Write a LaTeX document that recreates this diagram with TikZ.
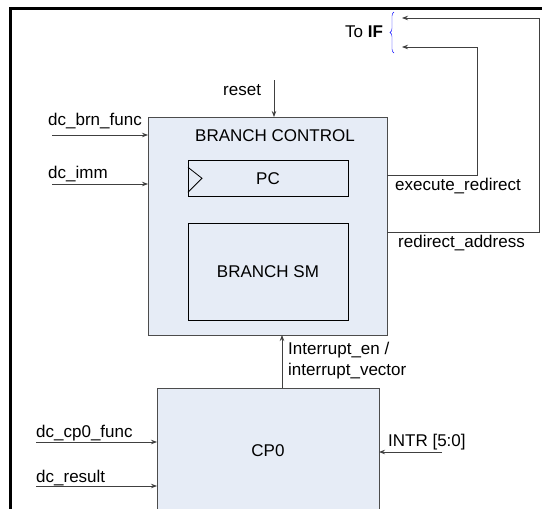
\documentclass[tikz,border=0pt]{standalone}
\usepackage{fontspec}
\setmainfont{Liberation Sans}
\usetikzlibrary{positioning,arrows.meta,decorations.pathreplacing}

\definecolor{blockfill}{RGB}{230,236,246}
\definecolor{wiregray}{RGB}{64,64,64}

\tikzset{
	block/.style={draw=black!70, fill=blockfill, line width=1pt, inner sep=0, outer sep=0},
	subblock/.style={draw=black, line width=1pt, inner sep=0, outer sep=0},
	lbl/.style={anchor=base west, inner sep=0},
	wire/.style={draw=wiregray, line width=0.8pt, -{Stealth[length=6pt,width=4.5pt]}},
}

\begin{document}
\begin{tikzpicture}[x=1pt, y=-1pt, font=\fontsize{17}{21}\selectfont]
	\useasboundingbox (0,0) rectangle (542,509);
	\clip (0,0) rectangle (542,509);

	\draw[line width=3pt] (10,520) -- (10,8) -- (550,8);

	% blocks
	\node[block, minimum width=239pt, minimum height=218pt] (bc) at (267.5,226) {};
	\node[lbl] (bctitle) at (195,141) {BRANCH CONTROL};
	\node[subblock, minimum width=160pt, minimum height=35.5pt] (pc) at (268,178.3) {PC};
	\draw[line width=0.8pt] ([yshift=11pt]pc.west) -- ([xshift=14pt]pc.west) -- ([yshift=-14pt]pc.west);
	\node[subblock, minimum width=160pt, minimum height=97pt] (sm) at (268,271.5) {BRANCH SM};
	\node[block, minimum width=222pt, minimum height=126pt] (cp0) at (268,451) {CP0};

	% inputs of branch control
	\coordinate (resetin) at (274,80);
	\draw[wire] (resetin) -- (resetin |- bc.north);
	\node[lbl] (resetlbl) at (223,95) {reset};

	\coordinate (brnin) at (52,135);
	\draw[wire] (brnin) -- (brnin -| bc.west);
	\node[lbl] (brnlbl) at (48,125.5) {dc\_brn\_func};

	\coordinate (immin) at (52,184);
	\draw[wire] (immin) -- (immin -| bc.west);
	\node[lbl] (immlbl) at (48,178) {dc\_imm};

	% back to IF
	\coordinate (iftop) at (402,18);
	\coordinate (ifbot) at (402,47);
	\coordinate (exeturn) at (477,175);
	\coordinate (addrturn) at (539,232);
	\draw[wire] (exeturn -| bc.east) -- (exeturn) |- (ifbot);
	\draw[wire] (addrturn -| bc.east) -- (addrturn) |- (iftop);
	\node[lbl] (exelbl) at (395,190) {execute\_redirect};
	\node[lbl] (addrlbl) at (398,247) {redirect\_address};
	\draw[blue, decorate, decoration={brace, amplitude=4pt}] (394,53) -- (394,12);
	\node[lbl] (iflbl) at (345,37) {To \textbf{IF}};

	% cp0
	\coordinate (intup) at (282,388);
	\draw[wire] (intup) -- (intup |- bc.south);
	\node[anchor=north west, inner sep=0, align=left] (intlbl) at (288,342) {Interrupt\_en /\\interrupt\_vector};

	\coordinate (cp0funcin) at (36,442);
	\draw[wire] (cp0funcin) -- (cp0funcin -| cp0.west);
	\node[lbl] (cp0funclbl) at (36,437) {dc\_cp0\_func};

	\coordinate (resultin) at (36,486);
	\draw[wire] (resultin) -- (resultin -| cp0.west);
	\node[lbl] (resultlbl) at (36,482) {dc\_result};

	\coordinate (intrin) at (442,452);
	\draw[wire] (intrin) -- (intrin -| cp0.east);
	\node[lbl] (intrlbl) at (388,446) {INTR [5:0]};
\end{tikzpicture}
\end{document}
